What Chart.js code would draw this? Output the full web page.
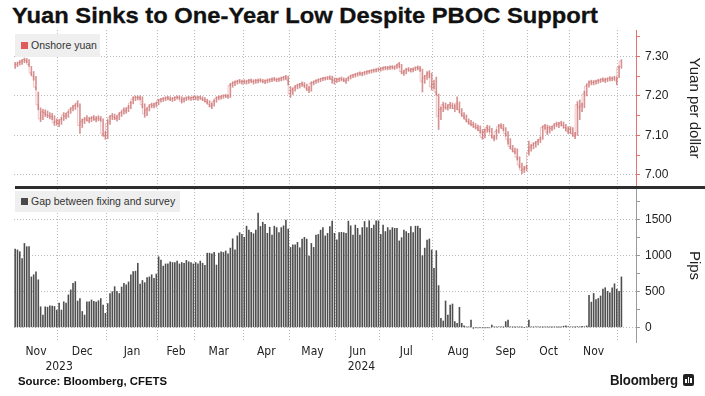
<!DOCTYPE html>
<html>
<head>
<meta charset="utf-8">
<script src="https://cdn.jsdelivr.net/npm/chart.js@4.4.1/dist/chart.umd.min.js"></script>
<style>
html,body{margin:0;padding:0;background:#fff;}
#wrap{position:relative;width:705px;height:396px;overflow:hidden;font-family:"Liberation Sans",Arial,sans-serif;background:#fff;}
#title{position:absolute;left:12px;top:4px;font-weight:bold;font-size:22px;line-height:24px;color:#111;white-space:nowrap;transform-origin:0 0;-webkit-text-stroke:0.3px #111;}
#c1{position:absolute;left:0;top:28px;}
#c2{position:absolute;left:0;top:188px;}
#sep{position:absolute;left:15px;top:186px;width:690px;height:3px;background:#2e2e2e;}
.leg{position:absolute;background:#efefef;color:#333;font-size:10.5px;white-space:nowrap;}
.leg i{position:absolute;left:6px;width:7px;height:7px;}
.leg span{position:absolute;left:16px;}
#source{position:absolute;left:18px;top:375px;font-weight:bold;font-size:11px;color:#111;white-space:nowrap;transform-origin:0 0;}
#bbg{position:absolute;left:610px;top:372px;font-weight:bold;font-size:14px;color:#1a1a1a;white-space:nowrap;transform-origin:0 0;letter-spacing:-0.2px;}
#icon{position:absolute;left:683px;top:374px;width:11px;height:12px;background:#222;border-radius:2px;}
#icon b{position:absolute;bottom:3px;width:1.5px;background:#fff;}
</style>
</head>
<body>
<div id="wrap">
  <div id="title">Yuan Sinks to One-Year Low Despite PBOC Support</div>
  <canvas id="c1" width="705" height="160"></canvas>
  <canvas id="c2" width="705" height="188"></canvas>
  <div id="sep"></div>
  <div class="leg" style="left:15px;top:34px;width:85px;height:23px;"><i style="top:8px;background:#e05a5a;"></i><span style="top:5px;">Onshore yuan</span></div>
  <div class="leg" style="left:15px;top:191px;width:165px;height:21px;"><i style="top:7px;background:#4a4a4a;"></i><span style="top:4px;">Gap between fixing and survey</span></div>
  <div id="source">Source: Bloomberg, CFETS</div>
  <div id="bbg">Bloomberg</div>
  <div id="icon"><b style="left:2px;height:4px"></b><b style="left:4.5px;height:6px"></b><b style="left:7px;height:5px"></b></div>
</div>
<script>
// ---------- categories (trading days per month) ----------
const monthLabels = ['Nov','Dec','Jan','Feb','Mar','Apr','May','Jun','Jul','Aug','Sep','Oct','Nov',''];
const monthYears  = ['2023','2023','2024','2024','2024','2024','2024','2024','2024','2024','2024','2024','2024','2024'];
const monthTradingDays = [19,21,22,16,21,20,20,19,23,22,19,18,21,2];
const yearLabels = ['2023','2024'];

// ---------- tick labels ----------
const yuanTicks = [7.00,7.05,7.10,7.15,7.20,7.25,7.30,7.35];
const yuanTickLabels = ['7.00','','7.10','','7.20','','7.30',''];
const pipsTicks = [0,250,500,750,1000,1250,1500,1750];
const pipsTickLabels = ['0','','500','','1000','','1500',''];

// ---------- onshore yuan (per dollar), daily ----------
const yuanClose = [
 7.278,7.280,7.284,7.286,7.292,7.290,7.280,7.258,7.250,7.222,7.178,7.142,7.160,7.158,7.152,7.150,7.148,7.132,7.136,
 7.130,7.140,7.152,7.148,7.158,7.166,7.170,7.176,7.182,7.125,7.135,7.140,7.142,7.138,7.143,7.145,7.140,7.144,7.142,7.104,7.098,
 7.130,7.146,7.150,7.147,7.143,7.152,7.158,7.165,7.162,7.170,7.182,7.192,7.197,7.196,7.196,7.178,7.155,7.165,7.172,7.178,7.176,7.180,
 7.188,7.190,7.193,7.194,7.196,7.193,7.192,7.195,7.197,7.196,7.186,7.192,7.194,7.196,7.195,7.196,
 7.196,7.195,7.197,7.193,7.190,7.186,7.178,7.174,7.186,7.194,7.196,7.198,7.200,7.201,7.199,7.226,7.230,7.234,7.236,7.238,7.236,
 7.237,7.236,7.238,7.240,7.236,7.238,7.239,7.240,7.238,7.237,7.239,7.240,7.242,7.243,7.241,7.242,7.244,7.246,7.248,7.240,
 7.205,7.215,7.222,7.226,7.228,7.232,7.228,7.220,7.215,7.232,7.234,7.238,7.240,7.242,7.244,7.245,7.246,7.248,7.242,7.240,
 7.240,7.242,7.244,7.241,7.238,7.245,7.250,7.252,7.254,7.256,7.258,7.256,7.259,7.261,7.262,7.264,7.265,7.266,7.268,
 7.268,7.270,7.272,7.271,7.272,7.274,7.272,7.276,7.282,7.262,7.258,7.266,7.268,7.265,7.267,7.270,7.272,7.270,7.236,7.246,7.252,7.258,7.223,
 7.232,7.210,7.148,7.166,7.178,7.172,7.170,7.178,7.175,7.168,7.182,7.165,7.155,7.150,7.140,7.135,7.130,7.128,7.122,7.120,7.112,7.095,
 7.110,7.120,7.115,7.100,7.092,7.110,7.122,7.125,7.118,7.105,7.090,7.072,7.065,7.060,7.045,7.025,7.012,7.015,7.018,
 7.058,7.070,7.075,7.080,7.085,7.090,7.120,7.125,7.108,7.120,7.118,7.125,7.130,7.128,7.132,7.125,7.120,7.110,
 7.118,7.105,7.098,7.178,7.170,7.175,7.205,7.225,7.232,7.236,7.234,7.236,7.238,7.240,7.242,7.240,7.242,7.245,7.244,7.246,7.238,
 7.272,7.288
];
const yuanHigh = [
 7.285,7.286,7.290,7.292,7.296,7.295,7.292,7.275,7.262,7.250,7.210,7.170,7.166,7.165,7.162,7.158,7.156,7.150,7.142,
 7.140,7.146,7.158,7.156,7.162,7.170,7.176,7.180,7.188,7.180,7.142,7.146,7.150,7.146,7.148,7.150,7.148,7.150,7.148,7.142,7.110,
 7.140,7.150,7.156,7.154,7.150,7.158,7.162,7.170,7.170,7.176,7.186,7.198,7.200,7.200,7.200,7.198,7.180,7.170,7.178,7.182,7.182,7.184,
 7.192,7.194,7.196,7.198,7.199,7.198,7.196,7.198,7.200,7.200,7.198,7.196,7.198,7.199,7.198,7.200,
 7.200,7.199,7.200,7.198,7.196,7.192,7.188,7.182,7.190,7.198,7.200,7.201,7.203,7.204,7.203,7.232,7.236,7.238,7.240,7.242,7.240,
 7.241,7.240,7.242,7.243,7.241,7.242,7.243,7.244,7.242,7.241,7.243,7.244,7.246,7.247,7.245,7.246,7.248,7.250,7.252,7.250,
 7.224,7.220,7.226,7.230,7.232,7.236,7.234,7.230,7.224,7.236,7.238,7.241,7.243,7.245,7.247,7.248,7.249,7.251,7.250,7.246,
 7.245,7.246,7.248,7.246,7.244,7.248,7.253,7.255,7.257,7.259,7.261,7.260,7.262,7.264,7.265,7.267,7.268,7.269,7.271,
 7.272,7.274,7.275,7.275,7.276,7.277,7.276,7.280,7.285,7.280,7.265,7.270,7.272,7.270,7.271,7.274,7.276,7.275,7.268,7.252,7.262,7.264,7.258,
 7.240,7.248,7.205,7.172,7.184,7.182,7.178,7.184,7.182,7.178,7.198,7.185,7.168,7.158,7.152,7.142,7.138,7.134,7.130,7.126,7.124,7.115,
 7.116,7.126,7.124,7.118,7.100,7.115,7.128,7.130,7.128,7.120,7.110,7.092,7.075,7.068,7.066,7.046,7.030,7.022,7.024,
 7.086,7.078,7.082,7.085,7.090,7.096,7.124,7.128,7.126,7.124,7.124,7.130,7.134,7.133,7.136,7.134,7.128,7.122,
 7.122,7.120,7.108,7.186,7.190,7.182,7.212,7.230,7.238,7.240,7.239,7.240,7.242,7.244,7.246,7.245,7.246,7.249,7.248,7.250,7.248,
 7.276,7.292
];
const yuanLow = [
 7.270,7.274,7.278,7.280,7.284,7.284,7.275,7.252,7.240,7.215,7.165,7.135,7.140,7.148,7.145,7.142,7.140,7.125,7.126,
 7.122,7.128,7.138,7.142,7.146,7.156,7.162,7.166,7.172,7.105,7.120,7.130,7.136,7.132,7.135,7.138,7.134,7.137,7.136,7.098,7.090,
 7.092,7.128,7.140,7.140,7.136,7.140,7.148,7.154,7.156,7.160,7.168,7.180,7.188,7.190,7.190,7.170,7.146,7.150,7.162,7.170,7.170,7.172,
 7.178,7.184,7.186,7.188,7.190,7.188,7.186,7.188,7.192,7.191,7.182,7.184,7.188,7.190,7.189,7.190,
 7.190,7.189,7.191,7.188,7.184,7.180,7.172,7.168,7.174,7.184,7.190,7.192,7.194,7.196,7.194,7.196,7.222,7.226,7.230,7.232,7.230,
 7.231,7.230,7.232,7.234,7.230,7.232,7.233,7.235,7.233,7.231,7.233,7.235,7.236,7.238,7.236,7.237,7.238,7.240,7.242,7.228,
 7.196,7.204,7.212,7.218,7.220,7.224,7.222,7.214,7.208,7.212,7.228,7.232,7.234,7.236,7.239,7.240,7.241,7.242,7.232,7.230,
 7.234,7.236,7.238,7.236,7.232,7.238,7.243,7.246,7.248,7.250,7.252,7.251,7.253,7.255,7.257,7.258,7.260,7.261,7.262,
 7.263,7.265,7.266,7.266,7.267,7.268,7.267,7.270,7.272,7.256,7.252,7.256,7.262,7.260,7.261,7.264,7.266,7.262,7.210,7.232,7.242,7.246,7.215,
 7.218,7.202,7.115,7.140,7.160,7.166,7.164,7.168,7.168,7.160,7.165,7.158,7.148,7.142,7.134,7.128,7.124,7.120,7.116,7.112,7.106,7.090,
 7.094,7.108,7.108,7.094,7.086,7.090,7.106,7.118,7.112,7.098,7.078,7.066,7.058,7.054,7.038,7.018,7.003,7.006,7.010,
 7.050,7.060,7.066,7.070,7.076,7.082,7.090,7.115,7.102,7.106,7.112,7.116,7.122,7.120,7.124,7.118,7.112,7.104,
 7.104,7.098,7.092,7.100,7.140,7.160,7.170,7.200,7.222,7.228,7.228,7.230,7.232,7.234,7.236,7.234,7.236,7.238,7.238,7.240,7.228,
 7.246,7.270
];

// ---------- gap between fixing and survey (pips), daily ----------
const gapPips = [
 1085,1075,1050,955,1165,1120,1120,700,730,770,660,285,170,285,280,300,295,290,240,
 335,240,355,335,450,520,610,635,365,400,220,170,355,355,380,360,350,370,400,310,195,
 330,470,495,565,500,470,560,610,590,630,730,775,780,890,600,650,620,690,700,730,680,740,
 980,935,850,880,880,910,900,900,920,880,900,890,930,910,900,880,
 900,880,920,890,860,1030,1030,1020,1040,865,1030,1050,1040,1060,1020,1100,1230,1075,1270,1315,1290,
 1250,1405,1350,1320,1300,1350,1585,1400,1460,1430,1305,1390,1280,1405,1385,1315,1385,1410,1490,1365,
 1110,1145,1145,1180,1105,1225,1250,1225,990,1165,1110,1280,1290,1350,1385,1270,1305,1400,1475,1305,
 1215,1315,1320,1315,1305,1475,1410,1280,1420,1375,1280,1385,1470,1385,1480,1375,1420,1480,1480,
 1290,1420,1330,1385,1350,1385,1375,1375,1200,1245,1350,1330,1305,1400,1315,1405,1405,1375,995,1100,1213,1227,1074,
 819,1065,579,125,88,366,171,310,324,79,56,278,56,19,5,5,102,-14,-5,-10,-5,-8,
 -10,-5,-8,32,5,3,8,5,2,79,102,5,3,2,5,3,2,0,3,
 100,5,3,8,5,3,2,5,3,4,2,5,3,2,4,15,20,10,
 5,8,3,10,5,15,8,20,445,350,470,385,400,435,530,550,500,480,550,605,530,
 500,700
];

// ---------- build x positions (trading-day index) ----------
const starts = []; let total = 0;
monthTradingDays.forEach(n => { starts.push(total); total += n; });
const dayIdx = []; for (let i = 0; i < total; i++) dayIdx.push(i);

const xMin = -0.5, xMax = total - 0.5 + 5.8;
function makeXTicks() {
  const t = [];
  starts.forEach((s, m) => {
    if (m > 0) t.push({value: s - 0.5, kind: 'b', lbl: ''});
    if (monthLabels[m]) t.push({value: s + (monthTradingDays[m] - 1) / 2, kind: 'm', lbl: monthLabels[m], yr: monthYears[m]});
  });
  yearLabels.forEach(y => {
    const ms = t.filter(k => k.kind === 'm' && k.yr === y);
    const v = ms.reduce((a, k) => a + k.value, 0) / ms.length;
    t.push({value: v, kind: 'y', lbl: ['', y]});
  });
  t.sort((a, b) => a.value - b.value);
  return t;
}

Chart.defaults.font.family = '"Liberation Sans", Arial, sans-serif';
Chart.defaults.color = '#222';
const gridGray = '#bababa';
const fontNarrow = '"Liberation Sans Narrow", "DejaVu Sans Condensed", "Liberation Sans", sans-serif';

function xScale(showLabels, h) {
  return {
    type: 'linear', min: xMin, max: xMax, bounds: 'data', offset: false,
    afterBuildTicks: s => { s.ticks = makeXTicks(); },
    afterFit: s => { s.height = h; s.paddingLeft = 0; s.paddingRight = 0; },
    ticks: {
      display: showLabels, autoSkip: false, maxRotation: 0, minRotation: 0, padding: 3,
      font: {size: 12, family: fontNarrow, lineHeight: 1.2}, color: '#222',
      callback: (v, i, ticks) => ticks[i] ? ticks[i].lbl : ''
    },
    grid: {
      offset: false, drawTicks: false,
      color: c => (c.tick && c.tick.kind === 'b') ? gridGray : 'rgba(0,0,0,0)',
      lineWidth: 1
    },
    border: {display: false, dash: [1, 2]}
  };
}

function yScale(vals, labels, min, max, axisColor, title) {
  return {
    position: 'right', min: min, max: max, bounds: 'data',
    afterBuildTicks: s => { s.ticks = vals.map((v, i) => ({value: v, lbl: labels[i]})); },
    afterFit: s => { s.width = 69; s.paddingTop = 0; s.paddingBottom = 0; },
    ticks: {
      padding: 5, font: {size: 12}, color: '#222',
      callback: (v, i, ticks) => ticks[i] ? ticks[i].lbl : ''
    },
    grid: {
      offset: false, drawTicks: true, tickLength: 4, tickColor: axisColor, tickBorderDash: [],
      color: c => (c.tick && c.tick.lbl) ? gridGray : 'rgba(0,0,0,0)',
      lineWidth: 1
    },
    border: {display: true, color: axisColor, width: 1, dash: [1, 2]},
    title: {display: true, text: title, font: {size: 15}, color: '#222', padding: {top: 2, bottom: 2}}
  };
}

new Chart(document.getElementById('c1'), {
  data: {
    datasets: [
      {
        type: 'bar', label: 'Onshore yuan range',
        data: dayIdx.map((x, i) => ({x: x, y: [yuanLow[i], yuanHigh[i]]})),
        backgroundColor: 'rgba(196,96,96,0.68)', borderWidth: 0, barThickness: 1, grouped: false
      },
      {
        type: 'line', label: 'Onshore yuan',
        data: dayIdx.map((x, i) => ({x: x, y: yuanClose[i]})),
        stepped: 'after', borderColor: 'rgba(238,168,168,0.7)', borderWidth: 1, pointRadius: 0, fill: false
      }
    ]
  },
  options: {
    responsive: false, animation: false, events: [],
    layout: {autoPadding: false, padding: {left: 14, right: 0, top: 2, bottom: 2}},
    plugins: {legend: {display: false}, tooltip: {enabled: false}},
    scales: {
      x: xScale(false, 0),
      y: yScale(yuanTicks, yuanTickLabels, 6.972, 7.367, '#e47272', 'Yuan per dollar')
    }
  }
});

new Chart(document.getElementById('c2'), {
  type: 'bar',
  data: {
    datasets: [{
      label: 'Gap between fixing and survey',
      data: dayIdx.map((x, i) => ({x: x, y: gapPips[i]})),
      backgroundColor: '#4e4e4e', borderWidth: 0, barThickness: 0.95
    }]
  },
  options: {
    responsive: false, animation: false, events: [],
    layout: {autoPadding: false, padding: {left: 14, right: 0, top: 1, bottom: 0}},
    plugins: {legend: {display: false}, tooltip: {enabled: false}},
    scales: {
      x: xScale(true, 34),
      y: yScale(pipsTicks, pipsTickLabels, -204, 1921, '#9a9a9a', 'Pips')
    }
  }
});

function fitWidth(id, target) {
  const el = document.getElementById(id);
  const w = el.getBoundingClientRect().width;
  if (w > 0) el.style.transform = 'scaleX(' + (target / w) + ')';
}
fitWidth('title', 586);
fitWidth('source', 149);
fitWidth('bbg', 68);
</script>
</body>
</html>
